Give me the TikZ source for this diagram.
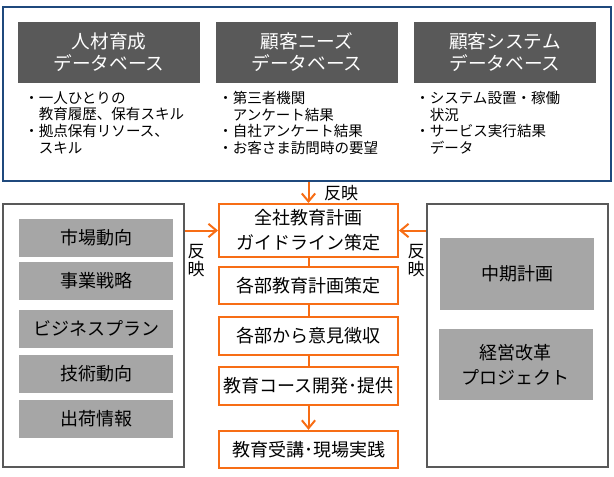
\documentclass[tikz,border=0pt]{standalone}
\usepackage{fontspec}
\setmainfont{Noto Sans CJK JP}
\usepackage{tikz}
\usepackage{xcolor}
\usetikzlibrary{arrows.meta,positioning}
\definecolor{dbblue}{RGB}{31,73,125}
\definecolor{headgray}{RGB}{89,89,89}
\definecolor{boxgray}{RGB}{166,166,166}
\definecolor{panelgray}{RGB}{89,89,89}
\definecolor{floworange}{RGB}{247,109,21}
\tikzset{
    db-head/.style = {fill=headgray, text=white, inner sep=0pt, minimum width=136.5pt, minimum height=45.75pt, align=center, font=\fontsize{14}{16.5}\selectfont},
    db-note/.style = {anchor=north west, inner sep=0pt, align=left, font=\fontsize{10.9}{12.5}\selectfont},
    step-box/.style = {draw=floworange, fill=white, line width=1.5pt, inner sep=0pt, minimum width=134.25pt, minimum height=28pt, align=center, font=\fontsize{13.5}{18.75}\selectfont},
    info-box/.style = {fill=boxgray, inner sep=0pt, minimum width=115.5pt, minimum height=28.5pt, align=center, font=\fontsize{13.5}{18.75}\selectfont},
    side-panel/.style = {draw=panelgray, line width=1.5pt, inner sep=0pt, minimum width=135.75pt, minimum height=197.25pt},
    flow-link/.style = {draw=floworange, line width=1.5pt},
    flow-arrow/.style = {flow-link, -{Straight Barb[length=6pt,width=10pt]}},
    link-label/.style = {inner sep=0pt, align=center, font=\fontsize{12.75}{13.5}\selectfont},
}

\begin{document}
\begin{tikzpicture}[x=0.75pt,y=-0.75pt]
\useasboundingbox (0,0) rectangle (614,476);

\node[draw=dbblue, line width=2pt, inner sep=0pt, minimum width=456pt, minimum height=130.5pt] (dbpanel) at (307,94) {};
\node[db-head] (hr-db) at (109,52.5) {人材育成\\データベース};
\node[db-head] (needs-db) at (307,52.5) {顧客ニーズ\\データベース};
\node[db-head] (sys-db) at (505,52.5) {顧客システム\\データベース};
\node[db-note] (hr-note) at (24,91) {・一人ひとりの\\\hspace*{1em}教育履歴、保有スキル\\・拠点保有リソース、\\\hspace*{1em}スキル};
\node[db-note] (needs-note) at (218,91) {・第三者機関\\\hspace*{1em}アンケート結果\\・自社アンケート結果\\・お客さま訪問時の要望};
\node[db-note] (sys-note) at (415,91) {・システム設置・稼働\\\hspace*{1em}状況\\・サービス実行結果\\\hspace*{1em}データ};

\node[side-panel] (lpanel) at (93.5,335.5) {};
\node[info-box] (market) at (96,238) {市場動向};
\node[info-box] (strategy) at (96,280.5) {事業戦略};
\node[info-box] (bizplan) at (96,328.5) {ビジネスプラン};
\node[info-box] (tech) at (96,374) {技術動向};
\node[info-box] (shipping) at (96,419) {出荷情報};

\node[side-panel] (rpanel) at (517.5,335.5) {};
\node[info-box, minimum height=54pt] (midplan) at (517,274) {中期計画};
\node[info-box, minimum height=53.25pt] (reform) at (515.5,364.5) {経営改革\\プロジェクト};

\node[step-box, minimum height=39.75pt] (b1) at (308.5,230.5) {全社教育計画\\ガイドライン策定};
\node[step-box] (b2) at (308.5,285.5) {各部教育計画策定};
\node[step-box] (b3) at (308.5,336) {各部から意見徴収};
\node[step-box] (b4) at (308.5,386) {教育コース開発･提供};
\node[step-box] (b5) at (308.5,449.5) {教育受講･現場実践};

\draw[flow-arrow] (dbpanel.south -| b1.north) -- node[link-label, right=11pt] (top-label) {反映} (b1.north);
\draw[flow-arrow] (lpanel.east |- b1.west) -- (b1.west);
\draw[flow-arrow] (rpanel.west |- b1.east) -- (b1.east);
\node[link-label] (left-label) at (196,261) {反\\映};
\node[link-label] (right-label) at (416,261) {反\\映};

\draw[flow-link] (b1) -- (b2);
\draw[flow-link] (b2) -- (b3);
\draw[flow-link] (b3) -- (b4);
\draw[flow-arrow] (b4) -- (b5);
\end{tikzpicture}
\end{document}
